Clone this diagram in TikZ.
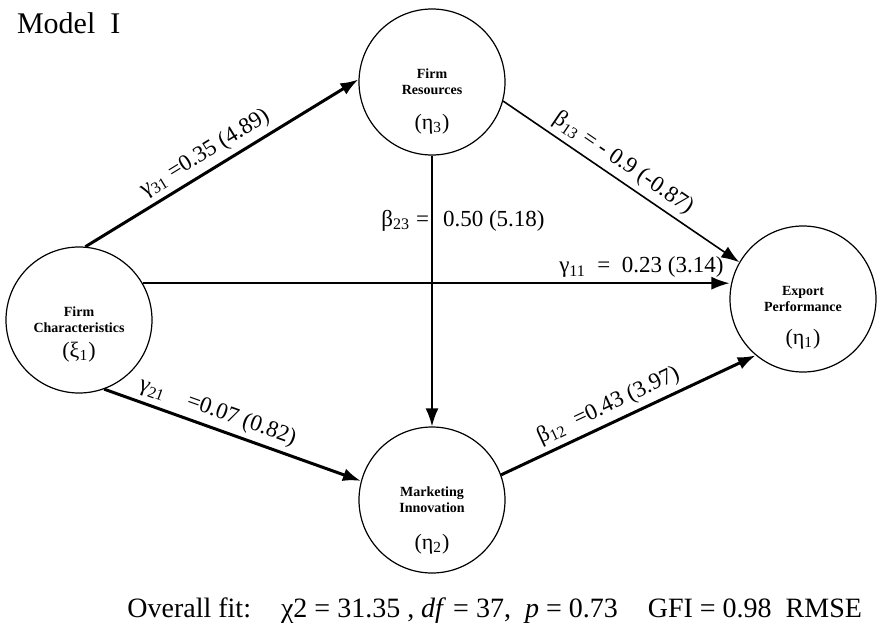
\documentclass[tikz,border=0pt]{standalone}
\usepackage{fontspec}
\setmainfont{Liberation Serif}
\usetikzlibrary{arrows.meta}

\begin{document}
\begin{tikzpicture}[x=0.5pt, y=-0.5pt, >={Latex[length=9pt,width=6.5pt]},
 latent/.style={draw,circle,line width=0.6pt,minimum size=73pt,inner sep=0pt,align=center,
   font=\fontsize{7}{8}\selectfont\bfseries},
 eta/.style={font=\fontsize{11}{12}\selectfont,inner sep=0pt},
 coef/.style={font=\fontsize{11.5}{13}\selectfont,inner sep=2.5pt},
 heavy/.style={->,line width=1.5pt},
 light/.style={->,line width=0.8pt}]
\useasboundingbox (0,0) rectangle (883,637);
\node[anchor=north west,font=\fontsize{15}{17}\selectfont] (title) at (10,6) {Model\ \ I};
% latent variables
\node[latent] (fr) at (432,82) {Firm\\Resources};
\node[latent] (fc) at (79,320) {Firm\\Characteristics};
\node[latent] (ep) at (803,299) {Export\\Performance};
\node[latent] (mi) at (432,500) {Marketing\\Innovation};
\node[eta] (fr-eta) at ([yshift=-21pt]fr.center) {(η\textsubscript{3})};
\node[eta] (fc-eta) at ([yshift=-16pt]fc.center) {(ξ\textsubscript{1})};
\node[eta] (ep-eta) at ([yshift=-20pt]ep.center) {(η\textsubscript{1})};
\node[eta] (mi-eta) at ([yshift=-22pt]mi.center) {(η\textsubscript{2})};
% paths
\draw[heavy] (fc.85) -- node[coef,sloped,above,pos=.47] {γ\textsubscript{31} =0.35 (4.89)} (fr.178);
\draw[light] (fr.-15) -- node[coef,sloped,above,pos=.47] {β\textsubscript{13} = - 0.9 (-0.87)} (ep.150);
\draw[->,line width=1pt] (fr) -- node[coef,left,pos=.24,inner sep=1pt] {β\textsubscript{23} =}
  node[coef,right,pos=.24,inner sep=5pt] {0.50 (5.18)} (mi);
\draw[light] (fc.30) -- node[coef,above,pos=.85] {γ\textsubscript{11} \ = \ 0.23 (3.14)} (fc.30 -| ep.west);
\draw[heavy] (fc.-70) -- node[coef,sloped,above,pos=.42] {γ\textsubscript{21}\quad =0.07 (0.82)} (mi.165);
\draw[heavy] (mi.20) -- node[coef,sloped,above,pos=.45] {β\textsubscript{12} \ =0.43 (3.97)} (ep.-130);
% fit indices
\node[anchor=base west,inner sep=0pt,font=\fontsize{14}{16}\selectfont] (fit) at (127,617)
  {Overall fit:\hspace{15pt}χ2 = 31.35 , \textit{df} = 37, \ \textit{p} = 0.73\hspace{15pt}GFI = 0.98\ \ RMSE};
\end{tikzpicture}
\end{document}
